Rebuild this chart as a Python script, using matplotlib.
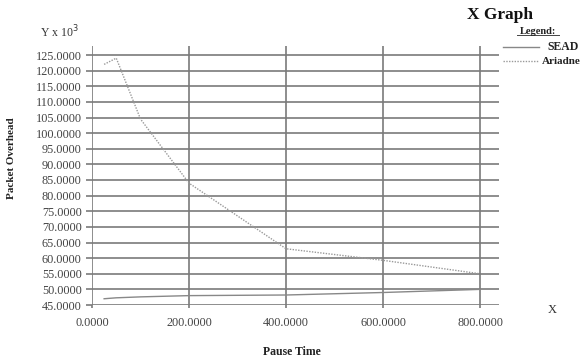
import matplotlib
matplotlib.use("Agg")
import matplotlib.pyplot as plt
from matplotlib.lines import Line2D

pause_time = [25, 50, 100, 200, 400, 600, 800]
sead = [47.0, 47.3, 47.6, 48.0, 48.2, 49.0, 50.0]
ariadne = [122.0, 124.0, 104.5, 84.0, 63.0, 59.3, 55.0]
x_ticks = [0, 200, 400, 600, 800]
y_ticks = list(range(45, 126, 5))

plt.rcParams['font.family'] = ['Liberation Serif', 'DejaVu Serif']

fig = plt.figure(figsize=(5.82, 3.61), dpi=100)
ax = fig.add_axes([92/582, 1-305/361, (499-92)/582, (305-46)/361])

grid_c = '#7a7a7a'
ax.plot(pause_time, sead, color='#888888', lw=1.0, ls='-')
ax.plot(pause_time, ariadne, color='#999999', lw=1.0, ls=(0, (1.0, 1.0)))

ax.set_xlim(0, (499-92)/0.485)
ax.set_ylim(45, 125 + 9/3.125)
ax.set_xticks(x_ticks)
ax.set_xticklabels([f"{v:.4f}" for v in x_ticks])
ax.set_yticks(y_ticks)
ax.set_yticklabels([f"{v:.4f}" for v in y_ticks])
ax.grid(True, color=grid_c, lw=1.2)
for s in ax.spines.values():
    s.set_visible(False)
ax.tick_params(axis='y', length=4.5, width=1.2, color=grid_c, labelsize=8.8,
               labelcolor='#444444', pad=3)
ax.tick_params(axis='x', length=2.5, width=1.2, color=grid_c, labelsize=8.8,
               labelcolor='#444444', pad=6)
ax.set_axisbelow(True)

fig.text(500/582, 1-15/361, 'X Graph', fontsize=12.5, fontweight='bold',
         ha='center', va='center', color='#111111')
fig.text(538/582, 1-31/361, 'Legend:', fontsize=7.5, fontweight='bold',
         ha='center', va='center', color='#222222')
fig.add_artist(Line2D([517/582, 559/582], [1-35/361, 1-35/361],
                      color='#444444', lw=0.7))
fig.add_artist(Line2D([503/582, 539/582], [1-47/361, 1-47/361],
                      color='#888888', lw=1.0))
fig.add_artist(Line2D([503/582, 539/582], [1-61/361, 1-61/361],
                      color='#999999', lw=1.0, ls=(0, (1.0, 1.0))))
fig.text(547/582, 1-47/361, 'SEAD', fontsize=8.5, fontweight='bold',
         ha='left', va='center', color='#222222')
fig.text(542/582, 1-61/361, 'Ariadne', fontsize=8.0, fontweight='bold',
         ha='left', va='center', color='#222222')

fig.text(40/582, 1-32/361, r'Y x 10$^3$', fontsize=8.5, ha='left',
         va='center', color='#333333')
fig.text(12/582, 1-158/361, 'Packet Overhead', fontsize=8,
         fontweight='bold', rotation=90, ha='center', va='center',
         color='#222222')
fig.text(292/582, 1-352/361, 'Pause Time', fontsize=8.5, fontweight='bold',
         ha='center', va='center', color='#222222')
fig.text(552/582, 1-310/361, 'X', fontsize=9, ha='center', va='center',
         color='#333333')

fig.savefig('out.png', dpi=100)
